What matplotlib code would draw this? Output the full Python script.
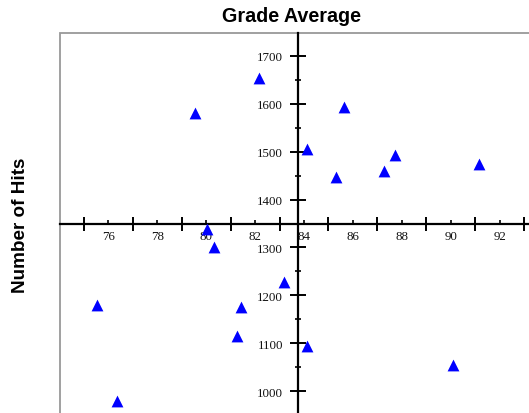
import numpy as np
import matplotlib.pyplot as plt
from matplotlib.patches import Rectangle
from matplotlib.ticker import FixedLocator, NullFormatter
plt.switch_backend("agg")

grade = [75.54, 76.34, 79.54, 82.14, 80.02, 80.32, 83.19, 81.41, 81.27,
         84.13, 84.13, 85.29, 85.65, 87.27, 87.72, 91.14, 90.10]
hits = [1181, 980, 1580, 1653, 1338, 1302, 1229, 1175, 1115,
        1094, 1505, 1448, 1592, 1459, 1493, 1474, 1055]

x_major = np.arange(75, 94, 2)
x_labels = np.arange(76, 93, 2)
y_major = np.arange(1000, 1701, 100)
y_minor = np.arange(1050, 1751, 100)

W, H = 529, 414
fig = plt.figure(figsize=(W / 100, H / 100), dpi=100)
ax = fig.add_axes([60 / W, -10 / H, 480 / W, 390.3 / H])

ax.scatter(grade, hits, marker="^", s=8.5**2, color="#0000ff", zorder=5,
           linewidths=0)

ax.set_xlim(74.02, 74.02 + 480 / 24.45)
ax.set_ylim(1000 - (414 + 10 - 392.3) / 0.4794, 1748)

for side in ("top", "right"):
    ax.spines[side].set_visible(False)
ax.spines["left"].set_position(("data", 83.74))
ax.spines["bottom"].set_position(("data", 1350))
for side in ("left", "bottom"):
    ax.spines[side].set_linewidth(1.6)
    ax.spines[side].set_color("black")

ax.add_patch(Rectangle((0, 0), 1, 1, transform=ax.transAxes, fill=False,
                       edgecolor="#999999", lw=1.3, clip_on=False, zorder=0))

# x axis: long ticks at odd values, labels on the short even ticks
ax.xaxis.set_major_locator(FixedLocator(x_major))
ax.xaxis.set_major_formatter(NullFormatter())
ax.xaxis.set_minor_locator(FixedLocator(x_labels))
ax.xaxis.set_minor_formatter(lambda v, p: f"{v:.0f}")
ax.tick_params(axis="x", which="major", direction="inout", length=10.5,
               width=1.4, color="black")
ax.tick_params(axis="x", which="minor", direction="in", length=3,
               width=1.2, color="black", labelsize=9.3, pad=5,
               labelcolor="#111111")

ax.yaxis.set_major_locator(FixedLocator(y_major))
ax.yaxis.set_minor_locator(FixedLocator(y_minor))
ax.tick_params(axis="y", which="major", direction="inout", length=11,
               width=1.4, color="black", labelsize=9.3, pad=5,
               labelcolor="#111111")
ax.tick_params(axis="y", which="minor", direction="inout", length=5,
               width=1.2, color="black")

for lab in ax.get_xticklabels(minor=True) + ax.get_yticklabels():
    lab.set_family("Liberation Serif")

fig.text(292 / W, 1 - 17 / H, "Grade Average", ha="center", va="center",
         fontsize=14.2, fontweight="bold", family="Liberation Sans")
fig.text(21 / W, 1 - 225 / H, "Number of Hits", ha="center", va="center",
         rotation=90, fontsize=13.6, fontweight="bold", family="Liberation Sans")

fig.savefig("out.png", dpi=100)
